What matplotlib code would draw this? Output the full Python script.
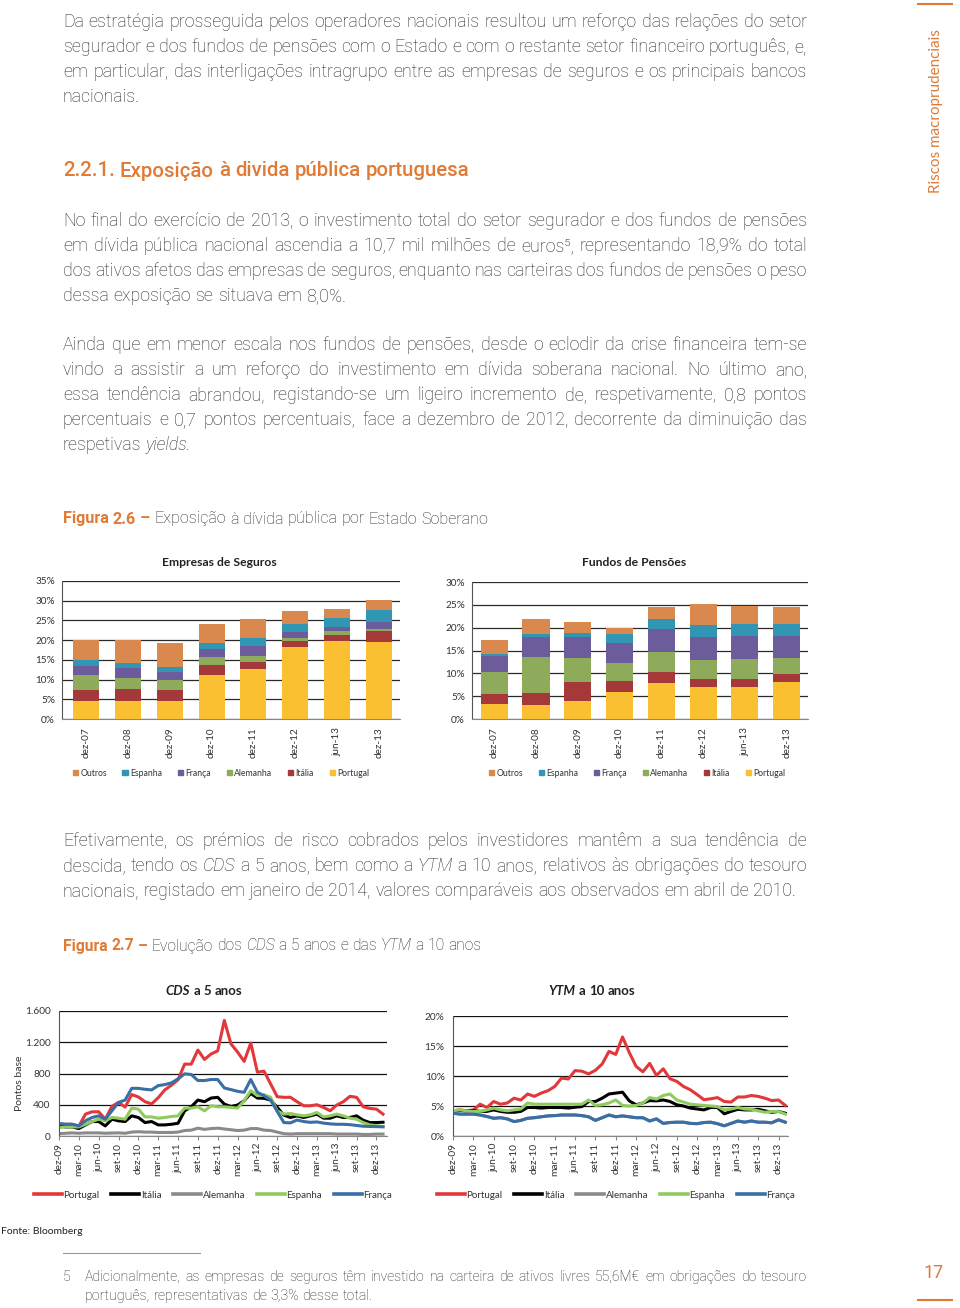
import matplotlib
matplotlib.use("Agg")
import matplotlib.pyplot as plt
from matplotlib.lines import Line2D
from matplotlib.patches import Patch
import numpy as np

# --- dados: Figura 2.6 (% do total de ativos) ---
bar_cats = ["dez-07", "dez-08", "dez-09", "dez-10", "dez-11", "dez-12", "jun-13", "dez-13"]
stack_names = ["Portugal", "Itália", "Alemanha", "França", "Espanha", "Outros"]

seg_portugal = [4.6, 4.6, 4.6, 11.05, 12.7, 18.2, 19.7, 19.5]
seg_italia = [2.65, 3.0, 2.65, 2.55, 1.7, 1.5, 1.6, 2.8]
seg_alemanha = [3.95, 2.85, 2.55, 2.2, 1.6, 0.9, 0.9, 0.5]
seg_franca = [2.3, 2.55, 2.2, 1.9, 2.4, 1.4, 1.1, 1.9]
seg_espanha = [1.5, 1.3, 1.3, 1.5, 2.2, 2.1, 2.2, 3.0]
seg_outros = [5.1, 5.8, 5.9, 4.9, 4.8, 3.2, 2.3, 2.5]

fp_portugal = [3.35, 3.1, 3.85, 5.9, 7.85, 7.1, 7.1, 8.05]
fp_italia = [2.1, 2.55, 4.2, 2.45, 2.45, 1.6, 1.6, 1.75]
fp_alemanha = [4.95, 8.0, 5.25, 3.85, 4.3, 4.2, 4.4, 3.5]
fp_franca = [3.4, 4.35, 4.7, 4.5, 5.2, 5.0, 5.1, 4.9]
fp_espanha = [0.4, 0.7, 0.9, 1.9, 2.2, 2.6, 2.6, 2.7]
fp_outros = [3.2, 3.2, 2.4, 1.4, 2.6, 4.6, 4.0, 3.6]

# --- dados: Figura 2.7 (mensal, dez-09 a jan-14) ---
month_ticks = ["dez-09", "mar-10", "jun-10", "set-10", "dez-10", "mar-11", "jun-11", "set-11", "dez-11",
               "mar-12", "jun-12", "set-12", "dez-12", "mar-13", "jun-13", "set-13", "dez-13"]
line_names = ["Portugal", "Itália", "Alemanha", "Espanha", "França"]

cds_portugal = [150, 150, 150, 125, 280, 310, 310, 215, 380, 430,
                370, 530, 500, 440, 410, 490, 590, 650, 720, 920,
                920, 1100, 980, 1050, 1090, 1480, 1180, 1075, 955, 1190,
                817, 830, 667, 503, 495, 495, 439, 387, 387, 400,
                366, 323, 396, 439, 508, 495, 374, 353, 344, 280]
cds_italia = [130, 116, 116, 95, 142, 185, 185, 129, 215, 194,
              185, 258, 237, 172, 185, 142, 142, 150, 163, 322,
              374, 460, 439, 486, 495, 408, 378, 396, 452, 546,
              486, 482, 460, 366, 267, 237, 258, 237, 258, 280,
              228, 228, 258, 237, 237, 258, 202, 172, 172, 176]
cds_alemanha = [30, 35, 40, 35, 40, 40, 40, 35, 38, 40,
                35, 50, 55, 50, 50, 45, 45, 45, 50, 70,
                75, 100, 85, 95, 100, 90, 80, 70, 75, 95,
                95, 75, 70, 50, 30, 25, 30, 30, 30, 30,
                30, 30, 25, 25, 25, 25, 20, 20, 25, 25]
cds_espanha = [108, 116, 116, 116, 150, 185, 215, 194, 237, 228,
               215, 357, 344, 245, 245, 228, 237, 249, 258, 357,
               357, 374, 322, 387, 374, 374, 366, 357, 452, 580,
               516, 529, 495, 322, 280, 288, 271, 258, 271, 301,
               245, 258, 280, 258, 228, 215, 172, 142, 133, 120]
cds_franca = [160, 150, 150, 130, 195, 237, 258, 215, 322, 430,
              460, 610, 610, 598, 590, 645, 658, 680, 731, 796,
              787, 710, 710, 723, 723, 615, 594, 572, 559, 723,
              559, 516, 460, 314, 172, 168, 205, 185, 175, 180,
              165, 155, 150, 150, 145, 135, 125, 122, 120, 118]

ytm_portugal = [4.2, 4.35, 4.2, 4.35, 5.3, 4.75, 5.75, 5.3, 5.5, 6.3,
                6.0, 7.0, 6.6, 7.15, 7.55, 8.25, 9.65, 9.5, 10.9, 10.8,
                10.35, 10.95, 12.0, 14.1, 13.6, 16.5, 13.9, 11.6, 10.7, 12.1,
                10.1, 11.2, 9.55, 9.1, 8.25, 7.7, 6.9, 6.05, 6.2, 6.4,
                5.75, 5.65, 6.5, 6.5, 6.75, 6.6, 6.3, 5.9, 6.0, 5.1]
ytm_italia = [4.1, 4.25, 4.2, 4.25, 4.1, 4.1, 4.35, 4.1, 3.95, 3.95,
              4.1, 4.75, 4.75, 4.65, 4.75, 4.75, 4.75, 4.65, 4.8, 4.9,
              5.75, 5.75, 6.3, 7.0, 7.15, 7.3, 5.85, 5.2, 5.5, 5.9,
              5.85, 6.0, 5.75, 5.2, 5.0, 4.65, 4.5, 4.35, 4.75, 4.75,
              3.7, 4.1, 4.45, 4.35, 4.35, 4.45, 4.2, 3.95, 4.1, 3.8]
ytm_alemanha = [3.8, 3.65, 3.65, 3.65, 3.5, 3.25, 2.95, 3.05, 2.85, 2.4,
                2.6, 2.95, 3.05, 3.2, 3.35, 3.4, 3.5, 3.5, 3.5, 3.4,
                3.2, 2.6, 3.05, 3.5, 3.2, 3.35, 3.2, 3.05, 3.05, 2.5,
                2.85, 2.1, 2.25, 2.3, 2.3, 2.1, 2.05, 2.25, 2.3, 2.05,
                1.7, 2.1, 2.5, 2.3, 2.5, 2.3, 2.3, 2.2, 2.7, 2.3]
ytm_espanha = [4.2, 4.35, 4.2, 4.1, 4.1, 4.35, 4.65, 4.35, 4.2, 4.35,
               4.5, 5.5, 5.3, 5.3, 5.3, 5.3, 5.3, 5.3, 5.3, 5.3,
               6.0, 5.1, 5.2, 5.5, 6.0, 5.1, 5.0, 5.1, 5.5, 6.4,
               6.15, 6.75, 7.0, 6.0, 5.65, 5.3, 5.2, 5.1, 5.0, 4.9,
               4.35, 4.5, 4.75, 4.5, 4.45, 4.2, 3.95, 4.1, 4.1, 3.65]
ytm_franca = [3.8, 3.65, 3.65, 3.65, 3.5, 3.25, 2.95, 3.05, 2.85, 2.4,
              2.6, 2.95, 3.05, 3.2, 3.35, 3.4, 3.5, 3.5, 3.5, 3.4,
              3.2, 2.6, 3.05, 3.5, 3.2, 3.35, 3.2, 3.05, 3.05, 2.5,
              2.85, 2.1, 2.25, 2.3, 2.3, 2.1, 2.05, 2.25, 2.3, 2.05,
              1.7, 2.1, 2.5, 2.3, 2.5, 2.3, 2.3, 2.2, 2.7, 2.3]

# --- cores e fontes ---
W, H = 960, 1308
ORANGE = "#E07A35"
TXT = "#333333"
BAR_COL = {"Portugal": "#FBBF32", "Itália": "#A5393A", "Alemanha": "#8EAA5B",
           "França": "#6C5C9C", "Espanha": "#3196B3", "Outros": "#D9894E"}
LINE_COL = {"Portugal": "#E2383A", "Itália": "#000000", "Alemanha": "#8A8A8A",
            "Espanha": "#90CB5E", "França": "#3A6FA5"}
BODY = dict(family=["Roboto", "DejaVu Sans"], weight="light", size=12.8, color="#262626")
CH = ["Lato", "DejaVu Sans"]

fig = plt.figure(figsize=(9.6, 13.08), dpi=100)
R = fig.canvas.get_renderer()


def fx(x):
    return x / W


def fy(y):
    return 1 - y / H


def put_line(y, line, x0=63, x1=None, center=None, **kw):
    # palavras uma a uma: "_x_" = itálico, "^x" = laranja negrito
    st0 = dict(BODY)
    st0.update(kw)
    ts = []
    for w in line.split():
        st = dict(st0)
        if w.startswith("^"):
            w = w[1:]
            st["color"] = ORANGE
            st["weight"] = "bold"
        if w.startswith("_"):
            w = w.strip("_")
            st["style"] = "italic"
        ts.append(fig.text(0, fy(y), w, va="center", ha="left", **st))
    ws = [t.get_window_extent(R).width for t in ts]
    if x1 is not None and len(ts) > 1:
        gap = (x1 - x0 - sum(ws)) / (len(ts) - 1)
    else:
        gap = st0["size"] * 100 / 72 * 0.25
    if center is not None:
        x0 = center - (sum(ws) + gap * (len(ts) - 1)) / 2
    x = x0
    for t, w in zip(ts, ws):
        t.set_x(fx(x))
        x += w + gap


def hline(x0, x1, y, color, lw):
    fig.add_artist(Line2D([fx(x0), fx(x1)], [fy(y), fy(y)], transform=fig.transFigure, color=color, lw=lw))


# --- texto da página ---
p1 = ["Da estratégia prosseguida pelos operadores nacionais resultou um reforço das relações do setor",
      "segurador e dos fundos de pensões com o Estado e com o restante setor financeiro português, e,",
      "em particular, das interligações intragrupo entre as empresas de seguros e os principais bancos"]
for i, l in enumerate(p1):
    put_line(22 + 25 * i, l, x1=807)
put_line(97, "nacionais.")

put_line(171, "2.2.1. Exposição à divida pública portuguesa", size=14.7, weight="medium", color=ORANGE)

p2 = ["No final do exercício de 2013, o investimento total do setor segurador e dos fundos de pensões",
      "em dívida pública nacional ascendia a 10,7 mil milhões de euros⁵, representando 18,9% do total",
      "dos ativos afetos das empresas de seguros, enquanto nas carteiras dos fundos de pensões o peso"]
for i, l in enumerate(p2):
    put_line(221 + 25 * i, l, x1=807)
put_line(296, "dessa exposição se situava em 8,0%.")

p3 = ["Ainda que em menor escala nos fundos de pensões, desde o eclodir da crise financeira tem-se",
      "vindo a assistir a um reforço do investimento em dívida soberana nacional. No último ano,",
      "essa tendência abrandou, registando-se um ligeiro incremento de, respetivamente, 0,8 pontos",
      "percentuais e 0,7 pontos percentuais, face a dezembro de 2012, decorrente da diminuição das"]
for i, l in enumerate(p3):
    put_line(345 + 25 * i, l, x1=807)
put_line(445, "respetivas _yields._")

put_line(519, "^Figura ^2.6 ^– Exposição à dívida pública por Estado Soberano", size=11.6)

p4 = ["Efetivamente, os prémios de risco cobrados pelos investidores mantêm a sua tendência de",
      "descida, tendo os _CDS_ a 5 anos, bem como a _YTM_ a 10 anos, relativos às obrigações do tesouro"]
for i, l in enumerate(p4):
    put_line(841 + 25 * i, l, x1=807)
put_line(891, "nacionais, registado em janeiro de 2014, valores comparáveis aos observados em abril de 2010.")

put_line(946, "^Figura ^2.7 ^– Evolução dos _CDS_ a 5 anos e das _YTM_ a 10 anos", size=11.25)

# margem direita
fig.text(fx(936), fy(111), "Riscos macroprudenciais", rotation=90, ha="center", va="center",
         color=ORANGE, family=CH, size=10.9)
hline(918, 952, 4, ORANGE, 1.5)
fig.text(fx(934), fy(1273), "17", ha="center", va="center", color=ORANGE, family=BODY["family"],
         size=13)
hline(918, 952, 1300, ORANGE, 1.5)

# rodapé
fig.text(fx(1), fy(1231), "Fonte: Bloomberg", ha="left", va="center", family=CH, size=7.5, color="#222")
hline(63, 200, 1253, "#999999", 0.8)
put_line(1277, "5", size=10.1)
put_line(1277, "Adicionalmente, as empresas de seguros têm investido na carteira de ativos livres 55,6M€ "
               "em obrigações do tesouro", x0=85, x1=807, size=10.1)
put_line(1296, "português, representativas de 3,3% desse total.", x0=85, size=10.3)


# --- gráficos de barras ---
def bar_panel(box, stacks, ymax, step, xlim, width, title, tcx, legx):
    x0, x1, ytop, ybot = box
    ax = fig.add_axes([fx(x0), fy(ybot), (x1 - x0) / W, (ybot - ytop) / H])
    x = np.arange(len(bar_cats))
    bottom = np.zeros(len(bar_cats))
    for name, vals in zip(stack_names, stacks):
        ax.bar(x, vals, width, bottom=bottom, color=BAR_COL[name], zorder=3)
        bottom += np.array(vals)
    ax.set_xlim(*xlim)
    ax.set_ylim(0, ymax)
    yt = np.arange(0, ymax + 0.01, step)
    ax.set_yticks(yt, [f"{v:.0f}%" for v in yt])
    ax.grid(axis="y", color="#2a2a2a", lw=0.9, zorder=0)
    ax.set_axisbelow(True)
    for s in ["top", "right"]:
        ax.spines[s].set_visible(False)
    ax.spines["left"].set_color("#555555")
    ax.spines["bottom"].set_color("#888888")
    ax.set_xticks(x, bar_cats, rotation=90)
    ax.tick_params(axis="x", length=0, pad=6)
    ax.tick_params(axis="y", length=0, pad=5)
    for lab in ax.get_xticklabels() + ax.get_yticklabels():
        lab.set_family(CH)
        lab.set_fontsize(7.2)
        lab.set_color(TXT)
    fig.text(fx(tcx), fy(563), title, ha="center", va="center", family=CH, size=8.7,
             weight="bold", color="#222")
    handles = [Patch(color=BAR_COL[n]) for n in stack_names[::-1]]
    fig.legend(handles, stack_names[::-1], loc="center", bbox_to_anchor=(fx(legx), fy(773)), ncol=6,
               frameon=False, prop={"family": CH, "size": 6.2}, handlelength=0.6, handleheight=0.6,
               handletextpad=0.3, columnspacing=1.8, labelcolor=TXT)


bar_panel((62, 400, 581, 719),
          [seg_portugal, seg_italia, seg_alemanha, seg_franca, seg_espanha, seg_outros],
          35, 5, (-0.57, 7.5), 0.62, "Empresas de Seguros", 219, 221)
bar_panel((472, 808, 582, 719),
          [fp_portugal, fp_italia, fp_alemanha, fp_franca, fp_espanha, fp_outros],
          30, 5, (-0.53, 7.51), 0.65, "Fundos de Pensões", 634, 637)


# --- gráficos de linhas ---
def line_panel(box, series, ymax, yt, ylabs, xmax, legx):
    x0, x1, ytop, ybot = box
    ax = fig.add_axes([fx(x0), fy(ybot), (x1 - x0) / W, (ybot - ytop) / H])
    m = np.arange(len(series[0]))
    for name, vals in zip(line_names, series):
        ax.plot(m, vals, color=LINE_COL[name], lw=2.2, solid_joinstyle="round")
    ax.set_xlim(0, xmax)
    ax.set_ylim(0, ymax)
    ax.set_yticks(yt, ylabs)
    ax.grid(axis="y", color="#111111", lw=0.9)
    ax.set_axisbelow(True)
    for s in ["top", "right"]:
        ax.spines[s].set_visible(False)
    ax.spines["left"].set_color("#555555")
    ax.spines["bottom"].set_color("#888888")
    ax.set_xticks(np.arange(0, len(m), 3), month_ticks, rotation=90)
    ax.tick_params(axis="x", length=3, color="#888888", pad=2)
    ax.tick_params(axis="y", length=0, pad=6)
    for lab in ax.get_xticklabels() + ax.get_yticklabels():
        lab.set_family(CH)
        lab.set_fontsize(7.3)
        lab.set_color(TXT)
    handles = [Line2D([], [], color=LINE_COL[n], lw=2.6) for n in line_names]
    fig.legend(handles, line_names, loc="center", bbox_to_anchor=(fx(legx), fy(1195)), ncol=5,
               frameon=False, prop={"family": CH, "size": 7}, handlelength=2.9,
               handletextpad=0.15, columnspacing=1.2, labelcolor=TXT)
    return ax


line_panel((59, 387, 1011, 1136),
           [cds_portugal, cds_italia, cds_alemanha, cds_espanha, cds_franca],
           1600, [0, 400, 800, 1200, 1600], ["0", "400", "800", "1.200", "1.600"], 49.6, 213)
line_panel((453, 788, 1016, 1136),
           [ytm_portugal, ytm_italia, ytm_alemanha, ytm_espanha, ytm_franca],
           20, [0, 5, 10, 15, 20], ["0%", "5%", "10%", "15%", "20%"], 49.4, 616)

put_line(991, "_CDS_ a 5 anos", center=204, family=CH, size=9.5, weight="bold", color="#222")
put_line(991, "_YTM_ a 10 anos", center=592, family=CH, size=9.5, weight="bold", color="#222")
fig.text(fx(20), fy(1083), "Pontos base", rotation=90, ha="center", va="center", family=CH,
         size=7.5, color=TXT)

fig.savefig("out.png", dpi=100, facecolor="white")
